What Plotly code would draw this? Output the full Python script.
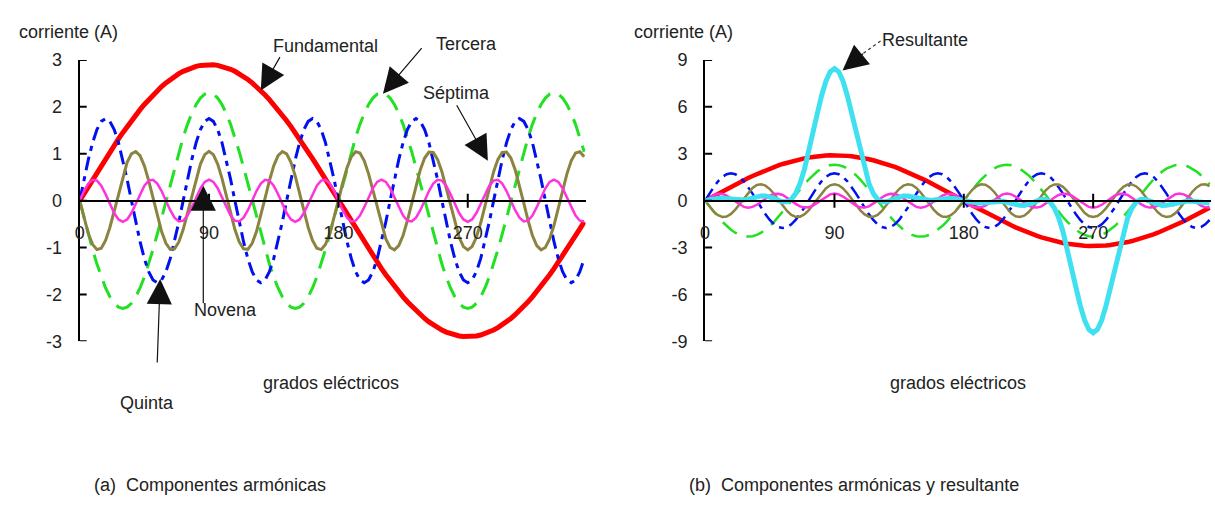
import numpy as np
import plotly.graph_objects as go

# ---- data -------------------------------------------------------------
# harmonic order, signed peak amplitude (A) of each component
orden = [1, 3, 5, 7, 9]
nombres = ["Fundamental", "Tercera", "Quinta", "Séptima", "Novena"]
amplitud = [2.9, -2.3, 1.75, -1.05, 0.45]

# electrical-degree sampling of the waveforms
angulo = np.arange(0, 352, 3)

ticks_x = [0, 90, 180, 270]
ticks_y_a = [-3, -2, -1, 0, 1, 2, 3]
ticks_y_b = [-9, -6, -3, 0, 3, 6, 9]

# ---- styles -----------------------------------------------------------
colores = ["#ff0000", "#22e022", "#0010ee", "#8a8440", "#ff33dd"]
guiones = ["solid", "18px,10px", "14px,6px,5px,6px", "solid", "solid"]
ancho_a = [5, 3, 3, 3, 2.5]
ancho_b = [4.5, 2.5, 2.5, 2.5, 2.5]
color_res = "#3fe0ef"
TXT = "#222222"
FONT = "Liberation Sans, Arial, sans-serif"

W, H = 1215, 506
y_top, y_bot = 52, 345
dom_y = [1 - y_bot / H, 1 - y_top / H]
pos_cero = (dom_y[0] + dom_y[1]) / 2
dom_xa = [75 / W, 583 / W]
dom_xb = [703 / W, 1211 / W]

ondas = [a * np.sin(np.radians(n * angulo)) for n, a in zip(orden, amplitud)]
resultante = np.sum(ondas, axis=0)

fig = go.Figure()

# panel (a): every harmonic drawn separately
for i in range(len(orden)):
    fig.add_trace(go.Scatter(
        x=angulo, y=ondas[i], mode="lines", name=nombres[i],
        line=dict(color=colores[i], width=ancho_a[i], dash=guiones[i]),
        xaxis="x", yaxis="y", showlegend=False))

# panel (b): harmonics plus their sum
for i in range(len(orden)):
    fig.add_trace(go.Scatter(
        x=angulo, y=ondas[i], mode="lines", name=nombres[i],
        line=dict(color=colores[i], width=ancho_b[i], dash=guiones[i]),
        xaxis="x2", yaxis="y2", showlegend=False))
fig.add_trace(go.Scatter(
    x=angulo, y=resultante, mode="lines", name="Resultante",
    line=dict(color=color_res, width=5),
    xaxis="x2", yaxis="y2", showlegend=False))

eje_x = dict(range=[0, 352], showgrid=False, zeroline=False, showline=True,
             linecolor="black", linewidth=2, tickvals=ticks_x, ticks="",
             ticklabelstandoff=16, tickfont=dict(size=18, color=TXT, family=FONT),
             anchor="free", position=pos_cero, fixedrange=True)
eje_y = dict(showgrid=False, zeroline=False, showline=True, linecolor="black",
             linewidth=2, ticks="", ticklabelstandoff=12,
             tickfont=dict(size=18, color=TXT, family=FONT), domain=dom_y)

fig.update_layout(
    width=W, height=H, margin=dict(l=0, r=0, t=0, b=0),
    paper_bgcolor="white", plot_bgcolor="rgba(0,0,0,0)",
    font=dict(family=FONT, size=18, color=TXT),
    xaxis=dict(eje_x, domain=dom_xa),
    xaxis2=dict(eje_x, domain=dom_xb),
    yaxis=dict(eje_y, range=[-3, 3], tickvals=ticks_y_a,
               ticktext=[str(v) for v in ticks_y_a], anchor="x"),
    yaxis2=dict(eje_y, range=[-9, 9], tickvals=ticks_y_b,
                ticktext=[str(v) for v in ticks_y_b], anchor="x2"),
)

# cross-shaped tick marks straddling each axis line
shapes = []
for xr, yr, tv in (("x", "y", ticks_y_a), ("x2", "y2", ticks_y_b)):
    for v in tv:
        shapes.append(dict(type="line", xref=xr, yref=yr, xsizemode="pixel",
                           xanchor=0, x0=-7, x1=7, y0=v, y1=v,
                           line=dict(color="black", width=2)))
    for v in ticks_x[1:]:
        shapes.append(dict(type="line", xref=xr, yref=yr, ysizemode="pixel",
                           yanchor=0, y0=-7, y1=7, x0=v, x1=v,
                           line=dict(color="black", width=2)))


def px(x, y):
    return x / W, 1 - y / H


annots = []


def texto(x, y, s, anchor="center"):
    xp, yp = px(x, y)
    annots.append(dict(x=xp, y=yp, xref="paper", yref="paper", text=s,
                       showarrow=False, xanchor=anchor, yanchor="middle",
                       font=dict(size=18, color=TXT, family=FONT)))


def flecha(xr, yr, x, y, ax, ay):
    annots.append(dict(x=x, y=y, xref=xr, yref=yr, ax=ax, ay=ay, text="",
                       showarrow=True, arrowhead=2, arrowsize=4.2,
                       arrowwidth=1.2, arrowcolor="#111111", standoff=0))


# axis titles and captions
texto(12, 23, "corriente (A)", "left")
texto(630, 23, "corriente (A)", "left")
texto(327, 388, "grados eléctricos")
texto(957, 388, "grados eléctricos")
texto(87, 495, "(a)  Componentes armónicas", "left")
texto(685, 495, "(b)  Componentes armónicas y resultante", "left")

# component labels with their pointers
texto(322, 37, "Fundamental")
flecha("x", "y", 126, 2.9 * np.sin(np.radians(126)), 20, -35)
texto(463, 35, "Tercera")
flecha("x", "y", 211, 2.28, 40, -47)
texto(453, 86, "Séptima")
flecha("x", "y", 284, 0.85, -32, -57)
texto(143, 409, "Quinta")
flecha("x", "y", 56, -1.67, -3, 85)
texto(221, 312, "Novena")
flecha("x", "y", 86, 0.32, 0, 119)
texto(924, 31, "Resultante")
flecha("x2", "y2", 95.6, 8.32, 22, -18)
shapes.append(dict(type="line", xref="paper", yref="paper",
                   x0=862 / W, y0=1 - 45 / H, x1=881 / W, y1=1 - 31 / H,
                   line=dict(color="#333333", width=1.2, dash="dot")))

fig.update_layout(shapes=shapes, annotations=annots)
fig.write_html("out.html")
